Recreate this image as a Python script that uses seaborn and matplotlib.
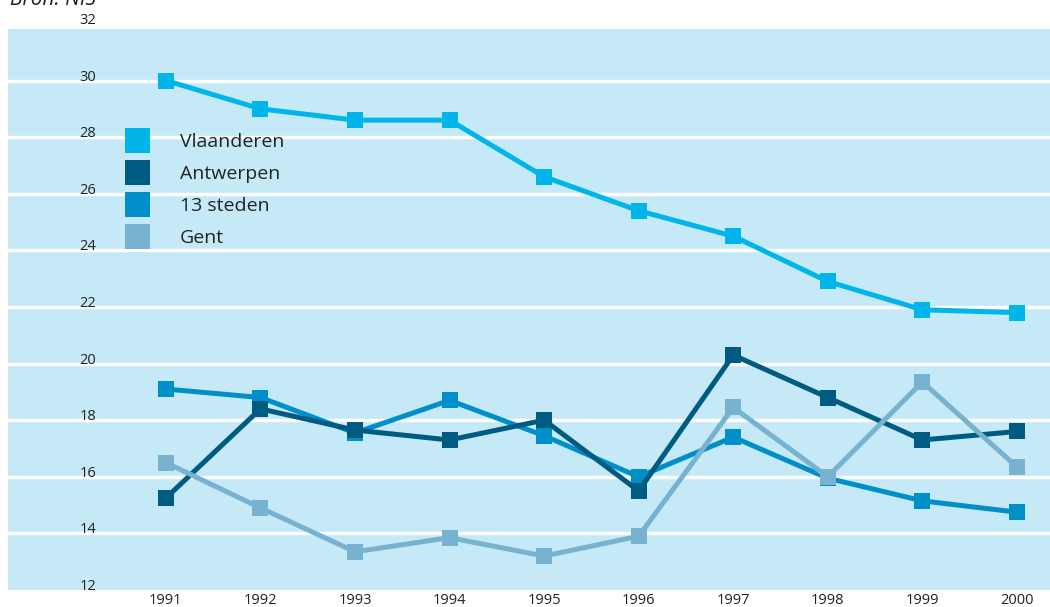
import matplotlib
matplotlib.use("Agg")
import matplotlib.pyplot as plt
from matplotlib.lines import Line2D
import seaborn as sns
import pandas as pd

years = [1991, 1992, 1993, 1994, 1995, 1996, 1997, 1998, 1999, 2000]
vlaanderen = [30.0, 29.0, 28.6, 28.6, 26.6, 25.4, 24.5, 22.9, 21.9, 21.8]
antwerpen = [15.25, 18.4, 17.65, 17.3, 18.0, 15.5, 20.3, 18.8, 17.3, 17.6]
steden13 = [19.1, 18.8, 17.55, 18.7, 17.45, 16.0, 17.4, 15.95, 15.15, 14.75]
gent = [16.5, 14.9, 13.35, 13.85, 13.2, 13.9, 18.45, 16.0, 19.35, 16.35]
series_names = ["Vlaanderen", "Antwerpen", "13 steden", "Gent"]
y_ticks = [12, 14, 16, 18, 20, 22, 24, 26, 28, 30, 32]
source_text = "Bron: NIS"

colors = {"Vlaanderen": "#00b5ea", "Antwerpen": "#005b82",
          "13 steden": "#008fc8", "Gent": "#77b3d0"}
bg = "#c6e9f8"

sns.set_theme(style="white")
plt.rcParams["font.family"] = ["Open Sans", "DejaVu Sans"]

df = pd.concat([
    pd.DataFrame({"jaar": years, "waarde": vals, "reeks": name})
    for name, vals in zip(series_names, [vlaanderen, antwerpen, steden13, gent])
])

fig = plt.figure(figsize=(10.5, 6.07), dpi=100)
ax = fig.add_axes([8 / 1050, 1 - 590 / 607, 1 - 8 / 1050, (590 - 29) / 607])
ax.set_facecolor(bg)

draw_order = ["Vlaanderen", "13 steden", "Antwerpen", "Gent"]
sns.lineplot(data=df, x="jaar", y="waarde", hue="reeks", hue_order=draw_order,
             palette=colors, marker="s", markersize=12, markeredgewidth=0,
             linewidth=3.6, dashes=False, legend=False, ax=ax, zorder=3)

ax.set_xlim(1989.33, 2000.35)
ax.set_ylim(12, 31.82)
for spine in ax.spines.values():
    spine.set_visible(False)

for t in y_ticks[1:-1]:
    ax.axhline(t, color="white", linewidth=2.4, zorder=1)

ax.set_yticks([])
ax.set_ylabel("")
ax.set_xlabel("")
ax.set_xticks(years)
ax.set_xticklabels([str(y) for y in years])
ax.tick_params(axis="x", length=0, pad=2, labelsize=10.5, colors="#222222")

trans = matplotlib.transforms.blended_transform_factory(ax.transAxes, ax.transData)
for t in y_ticks:
    ax.text(0.0845, t, str(t), transform=trans, ha="right", va="baseline",
            fontsize=10.5, color="#222222", clip_on=False, zorder=5)

handles = [Line2D([0], [0], marker="s", color=colors[n], linestyle="none",
                  markersize=18, markeredgewidth=0) for n in series_names]
ax.legend(handles, series_names, loc="upper left", bbox_to_anchor=(0.1065, 0.815),
          frameon=False, fontsize=14, borderpad=0, borderaxespad=0,
          handlelength=1.86, handletextpad=1.28, labelspacing=0.72,
          labelcolor="#222222")

fig.text(10 / 1050, 1 - 5 / 607, source_text, fontsize=15, style="italic",
         ha="left", va="baseline", color="#222222")

fig.savefig("out.png", dpi=100)
